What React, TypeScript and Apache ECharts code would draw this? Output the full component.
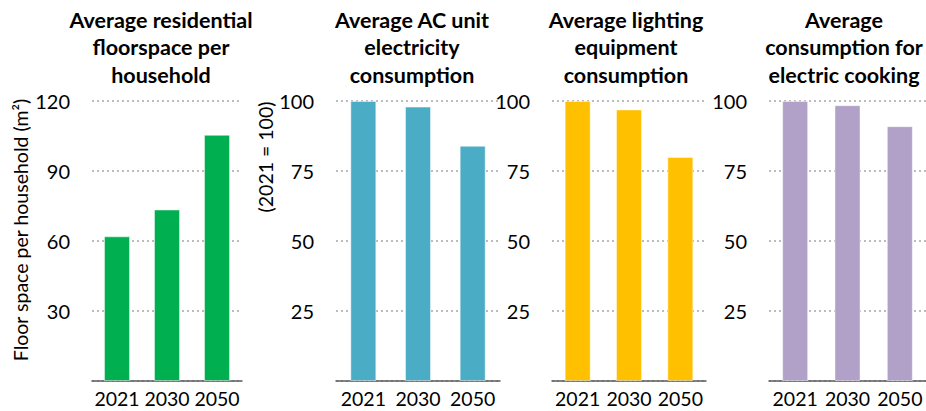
import React, { useEffect, useRef } from "react";
import * as echarts from "echarts";

const years = ["2021", "2030", "2050"];
const floorspace = [62, 73.5, 105.5];
const acConsumption = [100, 98, 84];
const lightingConsumption = [100, 97, 80];
const cookingConsumption = [100, 98.5, 91];

const titles = [
  "Average residential\nfloorspace per\nhousehold",
  "Average AC unit\nelectricity\nconsumption",
  "Average lighting\nequipment\nconsumption",
  "Average\nconsumption for\nelectric cooking",
];
const colors = ["#00B050", "#4BACC6", "#FFC000", "#B1A0C7"];
const yMax = [120, 100, 100, 100];
const yInterval = [30, 25, 25, 25];
const seriesData = [floorspace, acConsumption, lightingConsumption, cookingConsumption];

const FONT = "Lato, 'Open Sans', sans-serif";

export default function App() {
  const ref = useRef<HTMLDivElement>(null);
  useEffect(() => {
    if (!ref.current) return;
    const chart = echarts.init(ref.current, null, { renderer: "svg" });
    const grids = [
      { left: 92, width: 150 },
      { left: 336, width: 164 },
      { left: 552, width: 154 },
      { left: 769, width: 157 },
    ];
    const titleX = [161, 412, 626, 844];
    chart.setOption({
      animation: false,
      grid: grids.map((g) => ({ left: g.left, width: g.width, top: 101, height: 280, containLabel: false })),
      xAxis: grids.map((_, i) => ({
        type: "category",
        gridIndex: i,
        data: years,
        axisLine: { show: true, lineStyle: { color: "#595959", width: 1.5 } },
        axisTick: { show: false },
        axisLabel: {
          color: "#000",
          fontSize: 19.5,
          lineHeight: 19.5,
          fontFamily: FONT,
          margin: 8,
          interval: 0,
          hideOverlap: false,
        },
      })),
      yAxis: grids.map((_, i) => ({
        type: "value",
        gridIndex: i,
        min: 0,
        max: yMax[i],
        interval: yInterval[i],
        axisLine: { show: false },
        axisTick: { show: false },
        axisLabel: {
          color: "#000",
          fontSize: 20,
          fontFamily: FONT,
          margin: 22,
          showMinLabel: false,
        },
        splitLine: { show: true, lineStyle: { color: "#A6A6A6", type: [2, 3], width: 1.5 } },
      })),
      series: seriesData.map((d, i) => ({
        type: "bar",
        xAxisIndex: i,
        yAxisIndex: i,
        data: d,
        barWidth: 26,
        itemStyle: { color: colors[i], borderColor: "rgba(255,255,255,0.45)", borderWidth: 1 },
      })),
      graphic: [
        ...titles.map((t, i) => ({
          type: "text",
          x: titleX[i],
          y: 6,
          style: {
            text: t,
            fill: "#000",
            fontSize: 21.5,
            fontWeight: "bold",
            fontFamily: FONT,
            lineHeight: 27.5,
            align: "center",
            textAlign: "center",
            verticalAlign: "top",
          },
        })),
        {
          type: "text",
          x: 20,
          y: 230,
          rotation: Math.PI / 2,
          style: {
            text: "Floor space per household (m²)",
            fill: "#000",
            fontSize: 19.5,
            fontFamily: FONT,
            align: "center",
            textAlign: "center",
            verticalAlign: "middle",
          },
        },
        {
          type: "text",
          x: 265,
          y: 157,
          rotation: Math.PI / 2,
          style: {
            text: "(2021 = 100)",
            fill: "#000",
            fontSize: 19.5,
            fontFamily: FONT,
            align: "center",
            textAlign: "center",
            verticalAlign: "middle",
          },
        },
      ],
    });
    return () => chart.dispose();
  }, []);
  return (
    <div
      ref={ref}
      style={{ position: "fixed", left: 0, top: 0, width: 926, height: 411, background: "#fff" }}
    />
  );
}
